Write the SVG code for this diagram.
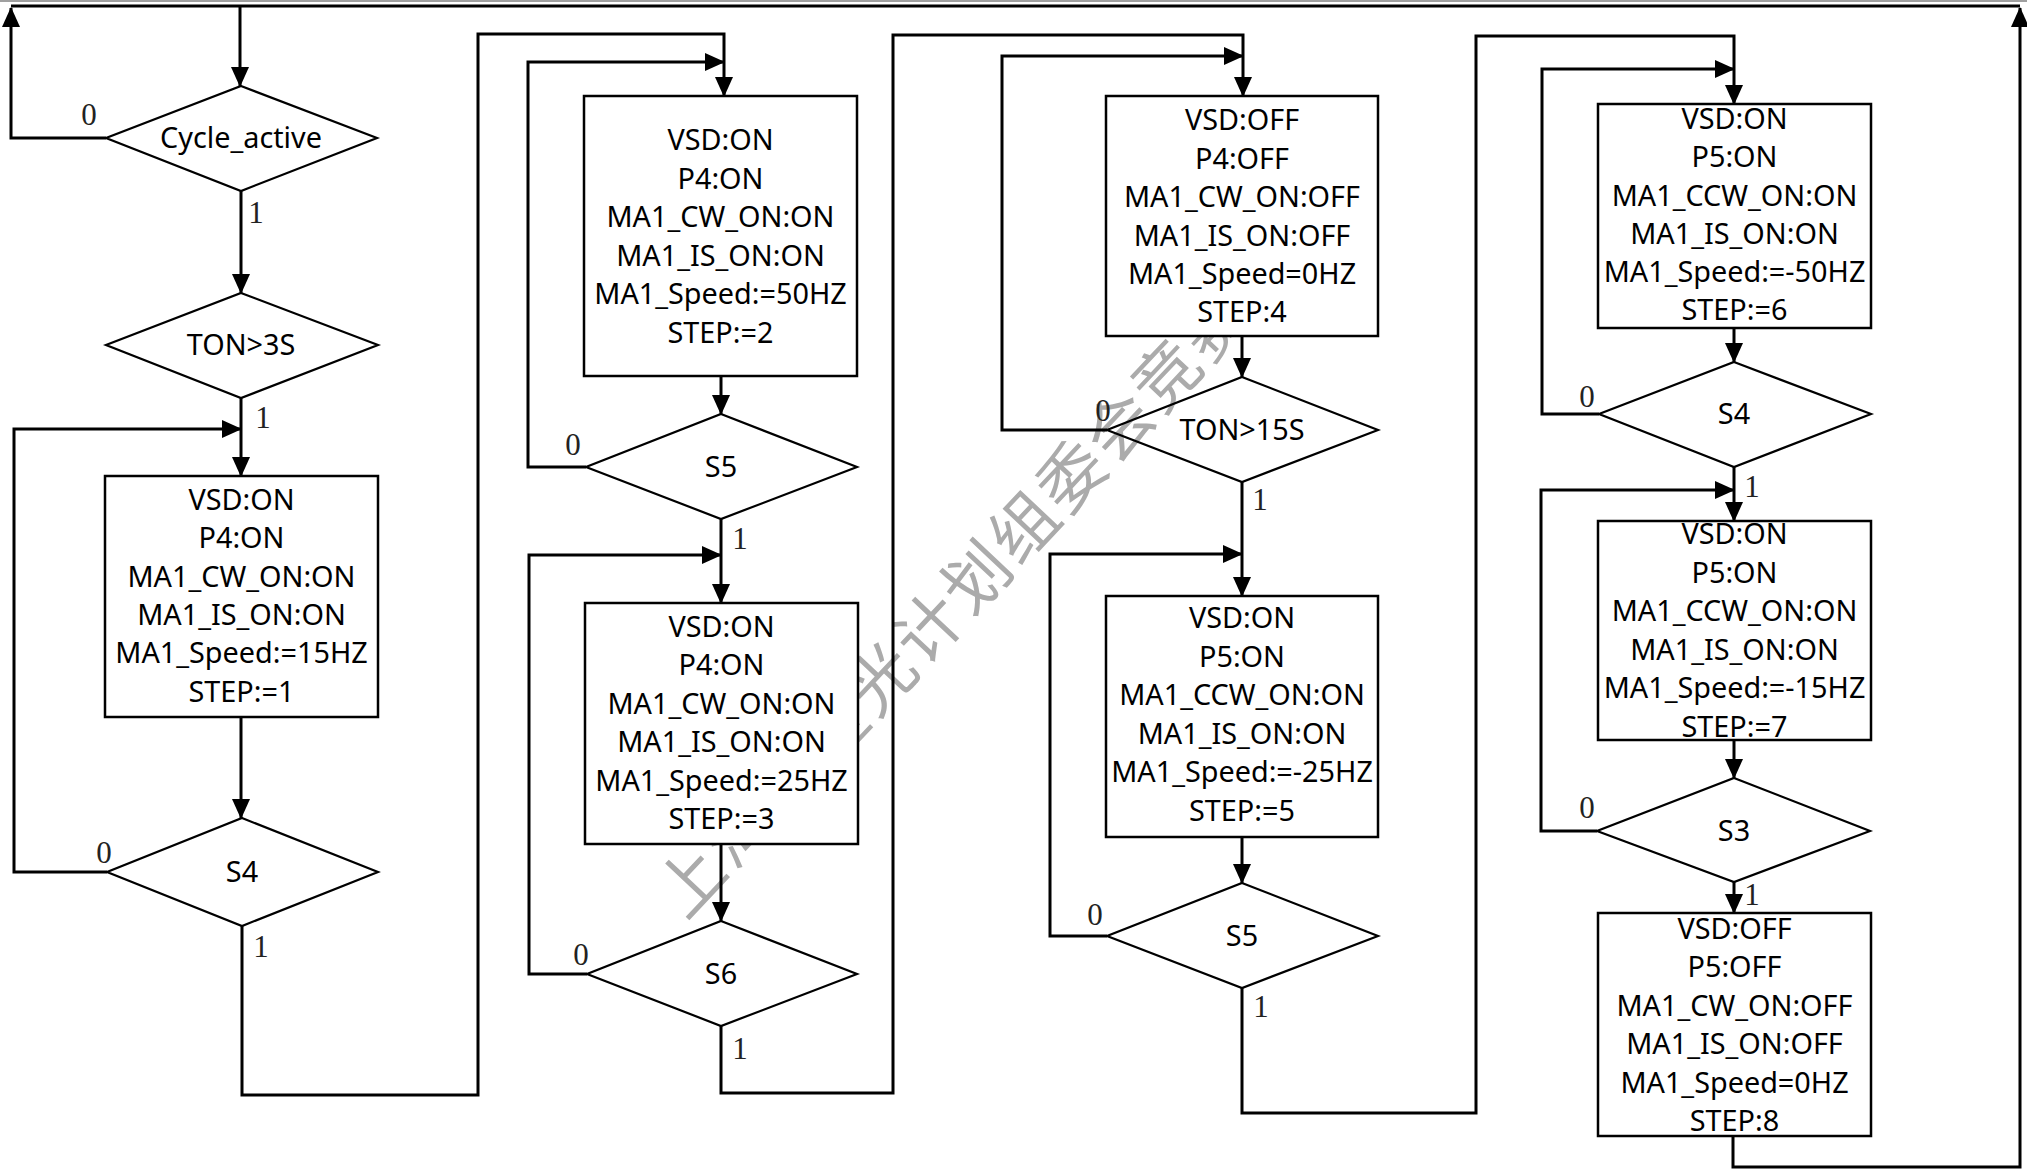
<svg xmlns="http://www.w3.org/2000/svg" width="2027" height="1171" viewBox="0 0 2027 1171">
<style>
.bg{fill:#fff}
.box{fill:#fff;stroke:#000;stroke-width:2.5}
.dia{fill:none;stroke:#000;stroke-width:2.2}
.t{font-family:"Noto Sans","Open Sans",sans-serif;font-size:28.8px;fill:#000;text-anchor:middle}
.d{font-family:"Noto Sans","Open Sans",sans-serif;font-size:28.8px;fill:#000;text-anchor:middle}
.lb{font-family:"Liberation Serif","Times New Roman",serif;font-size:31px;fill:#222;text-anchor:middle}
.c{fill:none;stroke:#000;stroke-width:3;stroke-linejoin:miter}
.ca{fill:none;stroke:#000;stroke-width:3;marker-end:url(#ah)}
.wm{font-family:"Noto Sans CJK SC",sans-serif;font-size:66px;fill:#ababab;letter-spacing:3.4px}
</style>
<defs>
<marker id="ah" viewBox="0 0 20 18" refX="19" refY="9" markerWidth="20" markerHeight="18" markerUnits="userSpaceOnUse" orient="auto">
<path d="M0,0 L20,9 L0,18 Z" fill="#000"/>
</marker>
</defs>
<rect class="bg" x="0" y="0" width="2027" height="1171"/>
<line x1="0" y1="1" x2="2027" y2="1" stroke="#a0a0a0" stroke-width="2"/>
<text class="wm" transform="translate(690,880) rotate(-46.7)" x="-33" y="25">上海市星光计划组委会竞赛专用</text>

<g id="connectors">
<path class="c" d="M11,6 H2020"/>
<path class="ca" d="M106,138 H11 V8"/>
<path class="ca" d="M240,6 V86"/>
<path class="ca" d="M241,191 V293"/>
<path class="ca" d="M241,398 V476"/>
<path class="ca" d="M107,872 H14 V429 H241"/>
<path class="ca" d="M241,717 V818"/>
<path class="ca" d="M242,926 V1095 H478 V34 H724 V96"/>
<path class="ca" d="M586,467 H528 V62 H724"/>
<path class="ca" d="M721,376 V414"/>
<path class="ca" d="M721,519 V603"/>
<path class="ca" d="M587,974 H529 V555 H721"/>
<path class="ca" d="M721,844 V921"/>
<path class="ca" d="M721,1026 V1093 H893 V35 H1243 V96"/>
<path class="ca" d="M1107,430 H1002 V56 H1243"/>
<path class="ca" d="M1242,336 V377"/>
<path class="ca" d="M1242,482 V596"/>
<path class="ca" d="M1107,936 H1050 V554 H1242"/>
<path class="ca" d="M1242,837 V883"/>
<path class="ca" d="M1242,988 V1113 H1476 V36 H1734 V104"/>
<path class="ca" d="M1599,414 H1542 V69 H1734"/>
<path class="ca" d="M1734,328 V362"/>
<path class="ca" d="M1734,467 V521"/>
<path class="ca" d="M1597,831 H1541 V490 H1734"/>
<path class="ca" d="M1734,740 V778"/>
<path class="ca" d="M1734,882 V913"/>
<path class="ca" d="M1733,1136 V1167 H2020 V8"/>
<text class="lb" x="89" y="125">0</text>
<text class="lb" x="256" y="223">1</text>
<text class="lb" x="263" y="428">1</text>
<text class="lb" x="104" y="863">0</text>
<text class="lb" x="261" y="957">1</text>
<text class="lb" x="573" y="455">0</text>
<text class="lb" x="740" y="549">1</text>
<text class="lb" x="581" y="965">0</text>
<text class="lb" x="740" y="1059">1</text>
<text class="lb" x="1103" y="421">0</text>
<text class="lb" x="1260" y="510">1</text>
<text class="lb" x="1095" y="925">0</text>
<text class="lb" x="1261" y="1017">1</text>
<text class="lb" x="1587" y="407">0</text>
<text class="lb" x="1752" y="497">1</text>
<text class="lb" x="1587" y="818">0</text>
<text class="lb" x="1752" y="905">1</text>
</g>

<g id="d_cycle"><polygon class="dia" points="241,86 377,138 241,191 106,138"/><text class="d" x="241" y="148">Cycle_active</text></g>
<g id="d_ton3"><polygon class="dia" points="241,293 378,345 241,398 106,345"/><text class="d" x="241" y="355">TON&gt;3S</text></g>
<g id="box1"><rect class="box" x="105" y="476" width="273" height="241"/>
<text class="t" x="241.5" y="510">VSD:ON</text><text class="t" x="241.5" y="548.3">P4:ON</text><text class="t" x="241.5" y="586.7">MA1_CW_ON:ON</text><text class="t" x="241.5" y="625">MA1_IS_ON:ON</text><text class="t" x="241.5" y="663.3">MA1_Speed:=15HZ</text><text class="t" x="241.5" y="701.7">STEP:=1</text></g>
<g id="d_s4a"><polygon class="dia" points="242,818 378,872 242,926 107,872"/><text class="d" x="242" y="882">S4</text></g>

<g id="box2"><rect class="box" x="584" y="96" width="273" height="280"/>
<text class="t" x="720.5" y="150">VSD:ON</text><text class="t" x="720.5" y="188.5">P4:ON</text><text class="t" x="720.5" y="227">MA1_CW_ON:ON</text><text class="t" x="720.5" y="265.5">MA1_IS_ON:ON</text><text class="t" x="720.5" y="304">MA1_Speed:=50HZ</text><text class="t" x="720.5" y="342.5">STEP:=2</text></g>
<g id="d_s5a"><polygon class="dia" points="721,414 857,467 721,519 586,467"/><text class="d" x="721" y="477">S5</text></g>
<g id="box3"><rect class="box" x="585" y="603" width="273" height="241"/>
<text class="t" x="721.5" y="636.6">VSD:ON</text><text class="t" x="721.5" y="675">P4:ON</text><text class="t" x="721.5" y="713.5">MA1_CW_ON:ON</text><text class="t" x="721.5" y="752">MA1_IS_ON:ON</text><text class="t" x="721.5" y="790.5">MA1_Speed:=25HZ</text><text class="t" x="721.5" y="829">STEP:=3</text></g>
<g id="d_s6"><polygon class="dia" points="721,921 857,974 721,1026 587,974"/><text class="d" x="721" y="984">S6</text></g>

<g id="box4"><rect class="box" x="1106" y="96" width="272" height="240"/>
<text class="t" x="1242" y="130">VSD:OFF</text><text class="t" x="1242" y="168.5">P4:OFF</text><text class="t" x="1242" y="207">MA1_CW_ON:OFF</text><text class="t" x="1242" y="245.5">MA1_IS_ON:OFF</text><text class="t" x="1242" y="284">MA1_Speed=0HZ</text><text class="t" x="1242" y="322">STEP:4</text></g>
<g id="d_ton15"><polygon class="dia" points="1242,377 1378,430 1242,482 1107,430"/><text class="d" x="1242" y="440">TON&gt;15S</text></g>
<g id="box5"><rect class="box" x="1106" y="596" width="272" height="241"/>
<text class="t" x="1242" y="628">VSD:ON</text><text class="t" x="1242" y="666.5">P5:ON</text><text class="t" x="1242" y="705">MA1_CCW_ON:ON</text><text class="t" x="1242" y="743.5">MA1_IS_ON:ON</text><text class="t" x="1242" y="782">MA1_Speed:=-25HZ</text><text class="t" x="1242" y="820.5">STEP:=5</text></g>
<g id="d_s5b"><polygon class="dia" points="1242,883 1378,936 1242,988 1107,936"/><text class="d" x="1242" y="946">S5</text></g>

<g id="box6"><rect class="box" x="1598" y="104" width="273" height="224"/>
<text class="t" x="1734.5" y="129">VSD:ON</text><text class="t" x="1734.5" y="167.3">P5:ON</text><text class="t" x="1734.5" y="205.6">MA1_CCW_ON:ON</text><text class="t" x="1734.5" y="244">MA1_IS_ON:ON</text><text class="t" x="1734.5" y="282">MA1_Speed:=-50HZ</text><text class="t" x="1734.5" y="320">STEP:=6</text></g>
<g id="d_s4b"><polygon class="dia" points="1734,362 1871,414 1734,467 1599,414"/><text class="d" x="1734" y="424">S4</text></g>
<g id="box7"><rect class="box" x="1598" y="521" width="273" height="219"/>
<text class="t" x="1734.5" y="544">VSD:ON</text><text class="t" x="1734.5" y="582.5">P5:ON</text><text class="t" x="1734.5" y="621">MA1_CCW_ON:ON</text><text class="t" x="1734.5" y="659.5">MA1_IS_ON:ON</text><text class="t" x="1734.5" y="698">MA1_Speed:=-15HZ</text><text class="t" x="1734.5" y="736.5">STEP:=7</text></g>
<g id="d_s3"><polygon class="dia" points="1734,778 1870,831 1734,882 1597,831"/><text class="d" x="1734" y="841">S3</text></g>
<g id="box8"><rect class="box" x="1598" y="913" width="273" height="223"/>
<text class="t" x="1734.5" y="938.7">VSD:OFF</text><text class="t" x="1734.5" y="977">P5:OFF</text><text class="t" x="1734.5" y="1015.5">MA1_CW_ON:OFF</text><text class="t" x="1734.5" y="1054">MA1_IS_ON:OFF</text><text class="t" x="1734.5" y="1092.5">MA1_Speed=0HZ</text><text class="t" x="1734.5" y="1131">STEP:8</text></g>
</svg>
